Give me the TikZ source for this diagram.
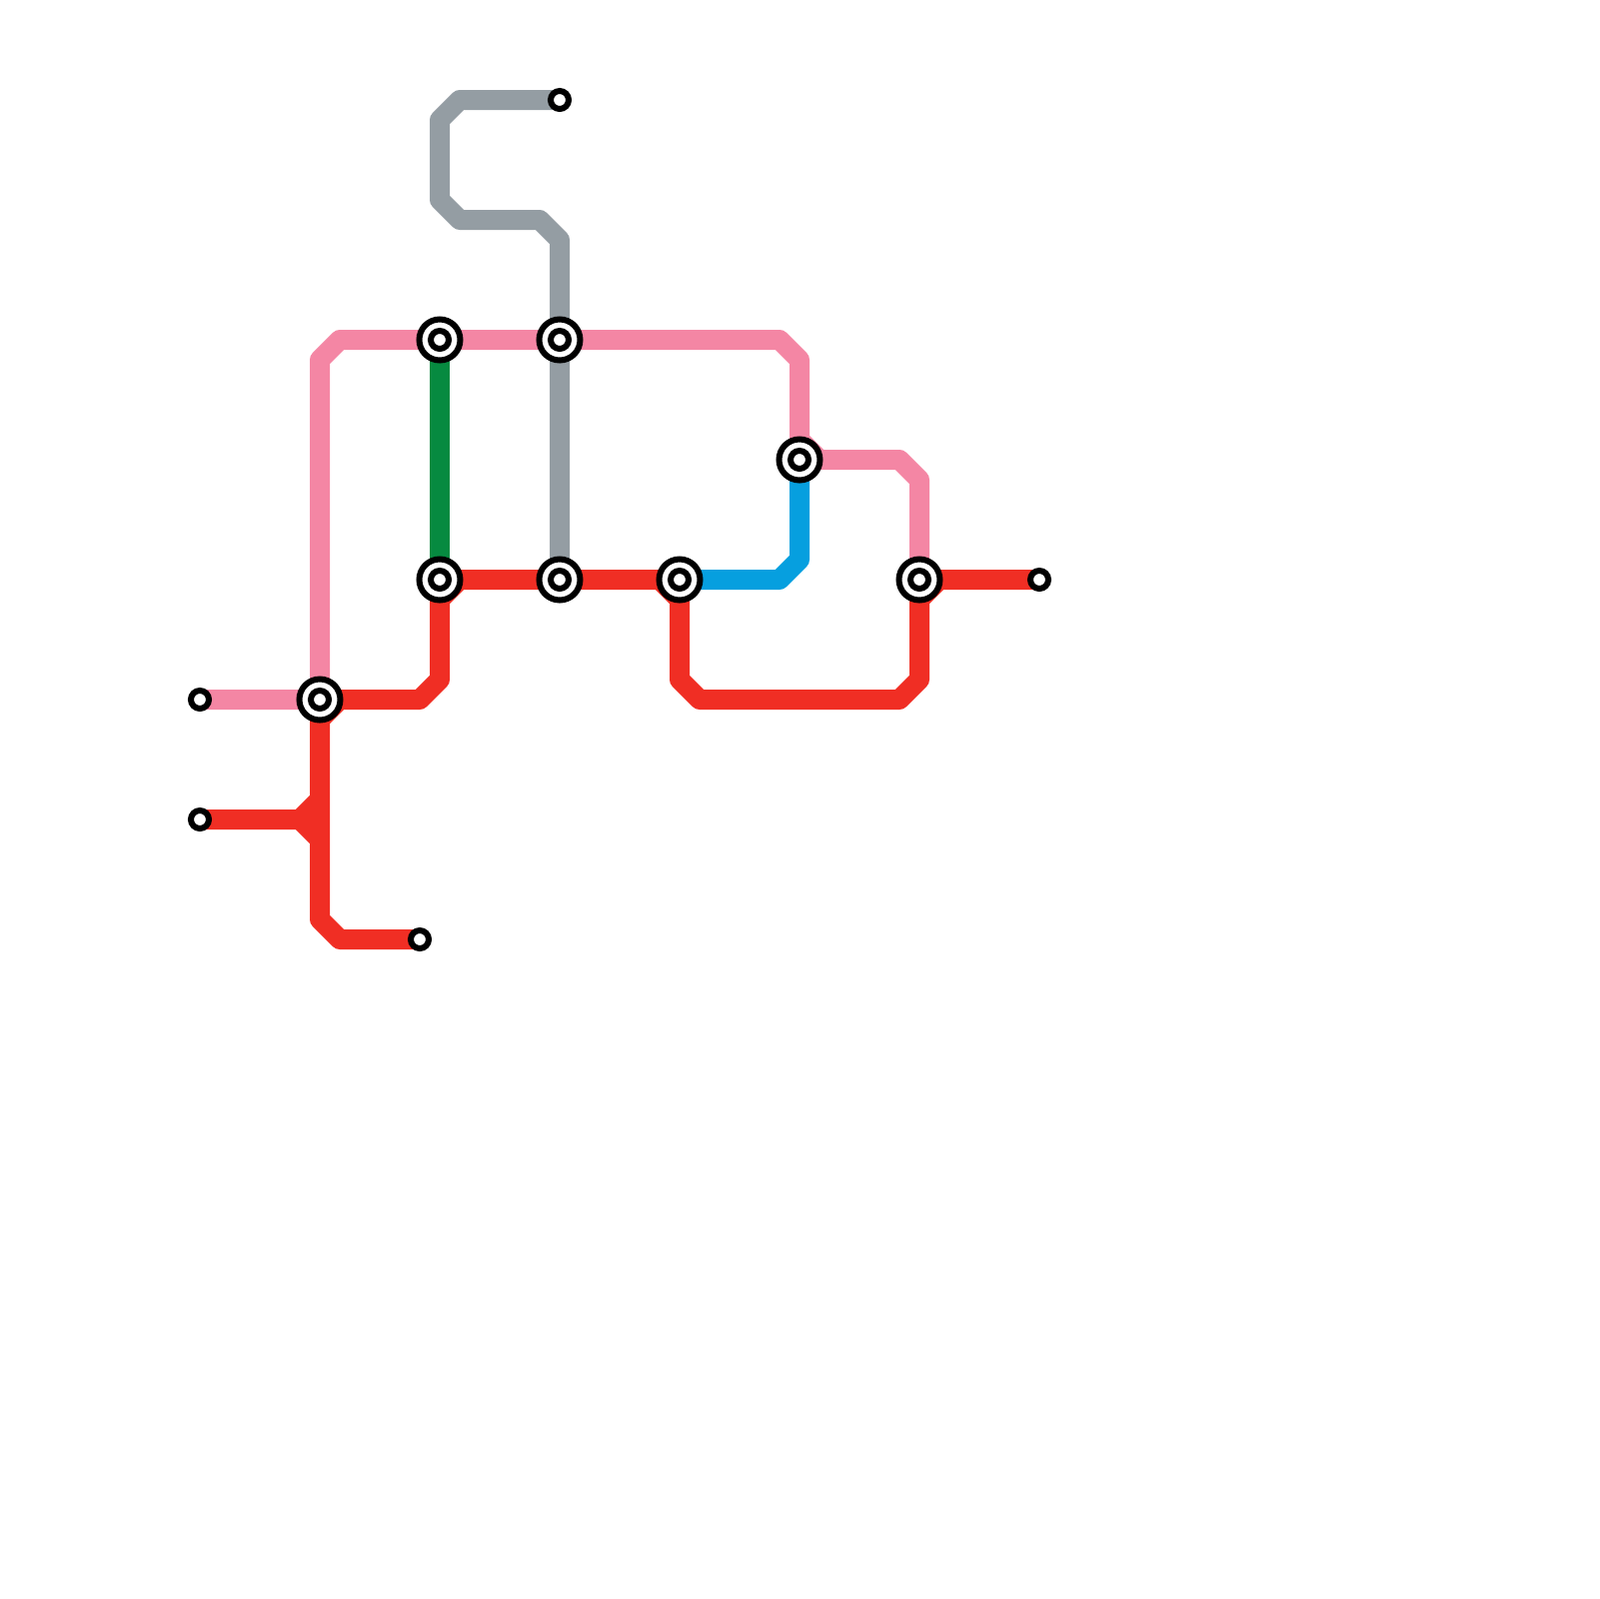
\documentclass[tikz,border=0pt]{standalone}
\definecolor{lpink}{HTML}{F486A4}
\definecolor{lred}{HTML}{F02E24}
\definecolor{lgrey}{HTML}{949DA3}
\definecolor{lgreen}{HTML}{068A40}
\definecolor{lblue}{HTML}{069FDF}
\tikzset{
  route/.style={line width=2mm,line join=round,line cap=butt},
  hub/.style={circle,draw=black,fill=white,line width=0.6mm,minimum size=4.1mm,inner sep=0pt},
  dot/.style={circle,draw=black,fill=white,line width=0.6mm,minimum size=1.8mm,inner sep=0pt},
}
\begin{document}
\begin{tikzpicture}[x=0.1mm,y=-0.1mm]
\useasboundingbox (0,0) rectangle (1600,1600);
% stops
\coordinate (A) at (320,700);
\coordinate (B) at (440,340);
\coordinate (C) at (560,340);
\coordinate (D) at (440,580);
\coordinate (E) at (560,580);
\coordinate (F) at (680,580);
\coordinate (G) at (800,460);
\coordinate (H) at (920,580);
\coordinate (t1) at (200,700);
\coordinate (t2) at (200,820);
\coordinate (t3) at (420,940);
\coordinate (t4) at (560,100);
\coordinate (t5) at (1040,580);
% bends
\coordinate (g1) at (460,100);
\coordinate (g2) at (440,120);
\coordinate (g3) at (440,200);
\coordinate (g4) at (460,220);
\coordinate (g5) at (540,220);
\coordinate (g6) at (560,240);
\coordinate (p1) at (320,360);
\coordinate (p2) at (340,340);
\coordinate (p3) at (780,340);
\coordinate (p4) at (800,360);
\coordinate (p5) at (800,440);
\coordinate (p6) at (820,460);
\coordinate (p7) at (900,460);
\coordinate (p8) at (920,480);
\coordinate (p9) at (920,560);
\coordinate (b1) at (780,580);
\coordinate (b2) at (800,560);
\coordinate (r1) at (340,700);
\coordinate (r1b) at (320,720);
\coordinate (r2) at (420,700);
\coordinate (r3) at (440,680);
\coordinate (r4) at (440,600);
\coordinate (r5) at (460,580);
\coordinate (r6) at (660,580);
\coordinate (r7) at (680,600);
\coordinate (r8) at (680,680);
\coordinate (r9) at (700,700);
\coordinate (r10) at (900,700);
\coordinate (r11) at (920,680);
\coordinate (r12) at (920,600);
\coordinate (r13) at (940,580);
\coordinate (s1) at (300,820);
\coordinate (s2) at (320,800);
\coordinate (s3) at (320,840);
\coordinate (s4) at (320,920);
\coordinate (s5) at (340,940);
% lines
\draw[route,lgrey] (t4) -- (g1) -- (g2) -- (g3) -- (g4) -- (g5) -- (g6) -- (E);
\draw[route,lgreen] (B) -- (D);
\draw[route,lpink] (t1) -- (A) -- (p1) -- (p2) -- (p3) -- (p4) -- (p5) -- (p6) -- (p7) -- (p8) -- (H);
\draw[route,lblue] (F) -- (b1) -- (b2) -- (G);
\draw[route,lred] (t2) -- (s1) -- (s2);
\draw[route,lred] (s1) -- (s3);
\draw[route,lred] (A) -- (s4) -- (s5) -- (t3);
\draw[route,lred] (r1b) -- (r1) -- (r2) -- (r3) -- (r4) -- (r5) -- (r6) -- (r7) -- (r8) -- (r9) -- (r10) -- (r11) -- (r12) -- (r13) -- (t5);
% stations
\foreach \p in {A,B,C,D,E,F,G,H}{
  \node[hub] (\p-outer) at (\p) {};
  \node[dot] (\p-inner) at (\p) {};
}
\foreach \p in {t1,t2,t3,t4,t5}{
  \node[dot] (\p-stop) at (\p) {};
}
\end{tikzpicture}
\end{document}
